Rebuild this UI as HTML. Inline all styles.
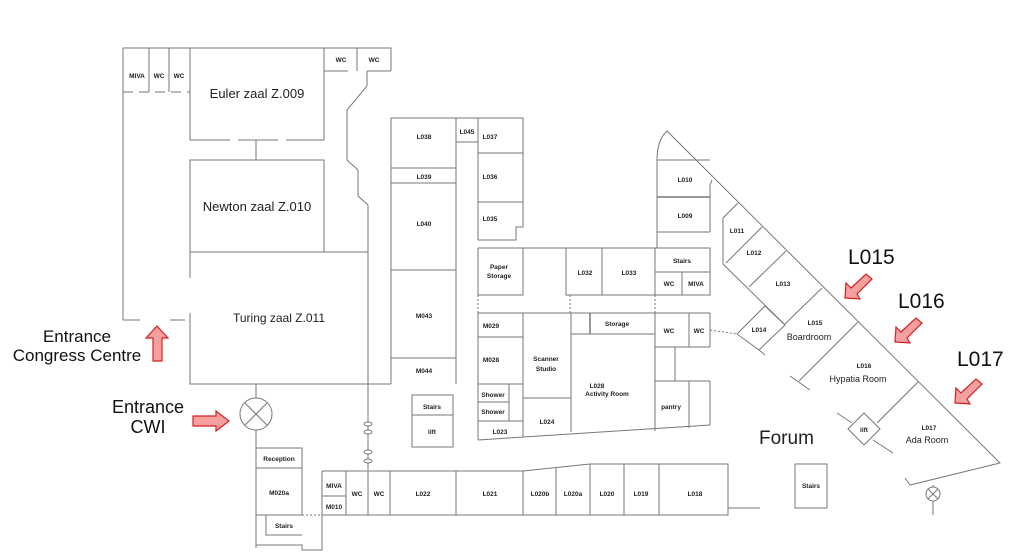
<!DOCTYPE html>
<html><head><meta charset="utf-8"><style>
html,body{margin:0;padding:0;background:#fff;}
svg{display:block;}
text{font-family:"Liberation Sans",sans-serif;fill:#222;}
.s{font-size:6.5px;font-weight:bold;text-anchor:middle;}
.m{font-size:9px;text-anchor:middle;}
.b{font-size:13px;text-anchor:middle;}
.e{font-size:17px;text-anchor:middle;fill:#111;}
.L{font-size:21px;fill:#111;}
</style></head><body>
<svg width="1024" height="552" viewBox="0 0 1024 552" xmlns="http://www.w3.org/2000/svg">
<g fill="none" stroke="#777" stroke-width="1">
<!-- left building -->
<polyline points="123,320 123,48 391,48 391,71"/>
<line x1="149" y1="48" x2="149" y2="92"/><line x1="169" y1="48" x2="169" y2="92"/><line x1="190" y1="48" x2="190" y2="140"/>
<line x1="123" y1="92" x2="190" y2="92" stroke-dasharray="10,6"/>
<polyline points="324,48 324,140"/>
<line x1="190" y1="140" x2="324" y2="140" stroke-dasharray="40,8"/>
<rect x="190" y="160" width="134" height="92"/>
<line x1="256" y1="140" x2="256" y2="160"/>
<line x1="324" y1="71" x2="348" y2="71"/><line x1="357" y1="48" x2="357" y2="71"/><line x1="367" y1="71" x2="391" y2="71"/>
<polyline points="367,71 367,86 347,110 347,160 358,170 358,196 368,205"/>
<line x1="368" y1="205" x2="368" y2="470"/>
<line x1="324" y1="252" x2="368" y2="252"/>
<polyline points="190,278 190,252"/><polyline points="190,313 190,384 391,384"/>
<line x1="123" y1="320" x2="140" y2="320"/><line x1="170" y1="320" x2="185" y2="320"/>
<!-- column rooms -->
<polyline points="391,384 391,118 523,118 523,153"/>
<line x1="391" y1="168" x2="456" y2="168"/><line x1="391" y1="183" x2="456" y2="183"/>
<line x1="391" y1="270" x2="456" y2="270"/><line x1="391" y1="358" x2="456" y2="358"/>
<line x1="456" y1="118" x2="456" y2="384"/><line x1="456" y1="142" x2="478" y2="142"/>
<line x1="478" y1="118" x2="478" y2="240"/>
<polyline points="478,153 523,153 523,227 516,227 516,240 478,240"/>
<line x1="478" y1="202" x2="523" y2="202"/>
<rect x="478" y="248" width="45" height="47"/>
<line x1="523" y1="248" x2="710" y2="248"/>
<rect x="566" y="248" width="36" height="47"/><rect x="602" y="248" width="53" height="47"/>
<rect x="655" y="248" width="55" height="47"/><line x1="655" y1="272" x2="710" y2="272"/><line x1="682" y1="272" x2="682" y2="295"/>
<g stroke-dasharray="2,2"><line x1="478" y1="295" x2="478" y2="313"/><line x1="570" y1="295" x2="570" y2="313"/><line x1="655" y1="295" x2="655" y2="313"/><line x1="710" y1="330" x2="737" y2="334"/><line x1="302" y1="515" x2="322" y2="515"/><line x1="368" y1="384" x2="391" y2="384"/></g>
<line x1="478" y1="313" x2="710" y2="313"/>
<line x1="478" y1="337" x2="523" y2="337"/><line x1="478" y1="384" x2="523" y2="384"/>
<line x1="478" y1="402" x2="509" y2="402"/><line x1="478" y1="421" x2="523" y2="421"/><line x1="509" y1="384" x2="509" y2="421"/>
<line x1="523" y1="313" x2="523" y2="437"/><line x1="523" y1="398" x2="571" y2="398"/>
<line x1="571" y1="313" x2="571" y2="432"/><line x1="571" y1="334" x2="655" y2="334"/><line x1="590" y1="313" x2="590" y2="334" stroke-width="1.5"/>
<line x1="655" y1="313" x2="655" y2="431"/><line x1="710" y1="313" x2="710" y2="347"/>
<line x1="655" y1="347" x2="710" y2="347"/><line x1="689" y1="313" x2="689" y2="347"/><line x1="675" y1="347" x2="675" y2="381"/>
<line x1="655" y1="381" x2="710" y2="381"/><line x1="689" y1="381" x2="689" y2="428"/><line x1="710" y1="381" x2="710" y2="425"/>
<line x1="478" y1="313" x2="478" y2="440"/><line x1="478" y1="440" x2="710" y2="425"/>
<rect x="412" y="395" width="41" height="52"/><line x1="412" y1="415" x2="453" y2="415"/>
<!-- ovals on line -->
<g fill="#fff"><ellipse cx="368" cy="424" rx="4" ry="2"/><ellipse cx="368" cy="432" rx="4" ry="2"/><ellipse cx="368" cy="452" rx="4" ry="2"/><ellipse cx="368" cy="461" rx="4" ry="2"/></g>
<!-- reception area -->
<line x1="256" y1="384" x2="256" y2="398"/><line x1="256" y1="430" x2="256" y2="448"/>
<circle cx="256" cy="414" r="16"/><line x1="245" y1="403" x2="267" y2="425"/><line x1="267" y1="403" x2="245" y2="425"/>
<polyline points="256,448 302,448 302,515"/><line x1="256" y1="448" x2="256" y2="548"/><line x1="256" y1="468" x2="302" y2="468"/><line x1="256" y1="515" x2="302" y2="515"/>
<polyline points="266,515 266,535 302,535"/><polyline points="256,545 302,545 302,550 322,550 322,471"/>
<!-- bottom row -->
<polyline points="322,471 523,471 590,464 728,464 728,515 322,515"/>
<line x1="322" y1="496" x2="346" y2="496"/>
<line x1="346" y1="471" x2="346" y2="515"/><line x1="368" y1="471" x2="368" y2="515"/><line x1="390" y1="471" x2="390" y2="515"/>
<line x1="456" y1="471" x2="456" y2="515"/><line x1="523" y1="471" x2="523" y2="515"/><line x1="556" y1="467" x2="556" y2="515"/>
<line x1="590" y1="464" x2="590" y2="515"/><line x1="624" y1="464" x2="624" y2="515"/><line x1="659" y1="464" x2="659" y2="515"/>
<line x1="728" y1="508" x2="760" y2="508"/>
<rect x="795" y="464" width="32" height="44"/>
<!-- triangle -->
<path d="M657,248 L657,160 Q657,140 667,131 L1000,463 L910,485 L905,478"/>
<line x1="657" y1="232" x2="710" y2="232"/><line x1="657" y1="197" x2="710" y2="197" stroke-width="1.5"/><line x1="657" y1="160" x2="710" y2="160"/>
<polyline points="712,180 710,185 710,232"/>
<polyline points="738,203 723,218 723,264 785,325"/>
<line x1="762" y1="227" x2="726" y2="263"/><line x1="786" y1="251" x2="749" y2="287"/><line x1="822" y1="288" x2="785" y2="324"/>
<polygon points="737,334 765,306 785,325 759,350"/><line x1="759" y1="350" x2="765" y2="355"/>
<line x1="858" y1="322" x2="799" y2="381"/><line x1="790" y1="376" x2="810" y2="390"/>
<line x1="918" y1="382" x2="877" y2="423"/>
<polygon points="864,413 880,429 864,445 848,429"/><line x1="837" y1="413" x2="852" y2="423"/><line x1="873" y1="440" x2="893" y2="453"/>
<line x1="933" y1="485" x2="933" y2="515"/><circle cx="933" cy="494" r="7" fill="#fff"/><line x1="928" y1="489" x2="938" y2="499"/><line x1="938" y1="489" x2="928" y2="499"/>
</g>
<!-- labels -->
<text class="s" x="137" y="78">MIVA</text><text class="s" x="159" y="78">WC</text><text class="s" x="179" y="78">WC</text>
<text class="s" x="341" y="62">WC</text><text class="s" x="374" y="62">WC</text>
<text class="b" x="257" y="98">Euler zaal Z.009</text>
<text class="b" x="257" y="211">Newton zaal Z.010</text>
<text class="b" x="279" y="322" style="font-size:12px">Turing zaal Z.011</text>
<text class="s" x="424" y="139">L038</text><text class="s" x="467" y="134">L045</text><text class="s" x="490" y="139">L037</text>
<text class="s" x="424" y="179">L039</text><text class="s" x="490" y="179">L036</text><text class="s" x="424" y="226">L040</text><text class="s" x="490" y="221">L035</text>
<text class="s" x="424" y="318">M043</text><text class="s" x="424" y="373">M044</text>
<text class="s" x="499" y="269">Paper</text><text class="s" x="499" y="278">Storage</text>
<text class="s" x="585" y="275">L032</text><text class="s" x="629" y="275">L033</text><text class="s" x="682" y="263">Stairs</text><text class="s" x="669" y="286">WC</text><text class="s" x="696" y="286">MIVA</text>
<text class="s" x="491" y="328">M029</text><text class="s" x="491" y="362">M028</text><text class="s" x="493" y="397">Shower</text><text class="s" x="493" y="414">Shower</text><text class="s" x="500" y="434">L023</text>
<text class="s" x="546" y="361">Scanner</text><text class="s" x="546" y="371">Studio</text><text class="s" x="547" y="424">L024</text>
<text class="s" x="617" y="326">Storage</text><text class="s" x="597" y="388">L028</text><text class="s" x="607" y="396">Activity Room</text>
<text class="s" x="669" y="333">WC</text><text class="s" x="699" y="333">WC</text><text class="s" x="671" y="409">pantry</text>
<text class="s" x="432" y="409">Stairs</text><text class="s" x="432" y="434">lift</text>
<text class="s" x="279" y="461">Reception</text><text class="s" x="279" y="495">M020a</text><text class="s" x="284" y="528">Stairs</text>
<text class="s" x="334" y="488">MIVA</text><text class="s" x="334" y="509">M010</text><text class="s" x="357" y="496">WC</text><text class="s" x="379" y="496">WC</text>
<text class="s" x="423" y="496">L022</text><text class="s" x="490" y="496">L021</text><text class="s" x="540" y="496">L020b</text><text class="s" x="573" y="496">L020a</text>
<text class="s" x="607" y="496">L020</text><text class="s" x="641" y="496">L019</text><text class="s" x="695" y="496">L018</text><text class="s" x="811" y="488">Stairs</text>
<text class="s" x="685" y="182">L010</text><text class="s" x="685" y="218">L009</text><text class="s" x="737" y="233">L011</text><text class="s" x="754" y="255">L012</text><text class="s" x="783" y="286">L013</text><text class="s" x="759" y="332">L014</text>
<text class="s" x="815" y="325">L015</text><text class="m" x="809" y="340">Boardroom</text>
<text class="s" x="864" y="368">L016</text><text class="m" x="858" y="382">Hypatia Room</text>
<text class="s" x="929" y="430">L017</text><text class="m" x="927" y="443">Ada Room</text>
<text class="s" x="864" y="432">lift</text>
<text style="font-size:19px;font-family:'Liberation Sans',sans-serif" x="759" y="444">Forum</text>
<text class="L" x="848" y="264">L015</text><text class="L" x="898" y="308">L016</text><text class="L" x="957" y="366">L017</text>
<text class="e" x="77" y="342">Entrance</text><text class="e" x="77" y="361">Congress Centre</text>
<text class="e" style="font-size:18px" x="148" y="413">Entrance</text><text class="e" style="font-size:18px" x="148" y="433">CWI</text>
<!-- red arrows -->
<g fill="#f4a0a0" stroke="#d42020" stroke-width="1.2">
<polygon points="157,326 168,338 162,338 162,361 153,361 153,338 146,338"/>
<polygon points="229,421 216,431 216,426 193,426 193,416 216,416 216,411"/>
<polygon points="845,298 860,299 857,294 872,279 866,274 851,288 846,283"/>
<polygon points="895,342 910,343 907,338 922,323 916,318 901,332 896,327"/>
<polygon points="955,403 970,404 967,399 982,384 976,379 961,393 956,388"/>
</g>
</svg>
</body></html>
